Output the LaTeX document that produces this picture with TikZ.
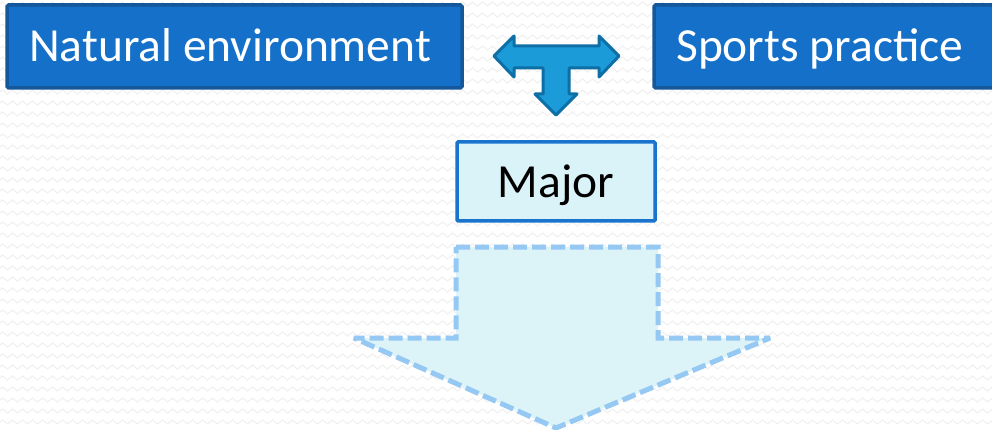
\documentclass[tikz,border=0pt]{standalone}
\usepackage{fontspec}
\setmainfont{Carlito}
\usetikzlibrary{decorations.pathmorphing}
\definecolor{boxfill}{HTML}{1470C8}
\definecolor{boxline}{HTML}{14579A}
\definecolor{majfill}{HTML}{DAF3F8}
\definecolor{majline}{HTML}{1874CD}
\definecolor{tfill}{HTML}{1B9BD7}
\definecolor{tline}{HTML}{0D6FA6}
\definecolor{dfill}{HTML}{DCF3F8}
\definecolor{dline}{HTML}{95C8F3}
\definecolor{bgzig}{HTML}{EDEDED}
\tikzset{
  topbox/.style={draw=boxline, fill=boxfill, line width=3.5pt, rounded corners=1.5pt},
  majbox/.style={draw=majline, fill=majfill, line width=3.5pt, rounded corners=1pt},
  label/.style={font=\fontsize{47.5}{52}\selectfont, inner sep=0pt},
  tarrow/.style={draw=tline, fill=tfill, line width=3pt, line join=round},
  bigarrow/.style={draw=dline, fill=dfill, line width=5pt, dash pattern=on 14pt off 5pt, line join=miter, miter limit=1.5},
  zig/.style={draw=bgzig, line width=0.8pt, decorate, decoration={zigzag, segment length=10pt, amplitude=2pt}}
}
\begin{document}
\begin{tikzpicture}[x=1pt,y=-1pt]
\useasboundingbox (0,0) rectangle (992,430);
\fill[white] (0,0) rectangle (992,430);
\begin{scope}
\clip (0,0) rectangle (992,430);
\foreach \yy in {4,15,...,430} { \path[zig] (-10,\yy) -- (1000,\yy); }
% top boxes
\path[topbox] (7,5) rectangle (462,88);
\path[topbox] (654,5) rectangle (1010,88);
\node[label, text=white, anchor=base west] (nat) at (29,62) {Natural environment};
\node[label, text=white, anchor=base west] (spo) at (676,62) {Sports practice};
% T arrow
\path[tarrow] (494,56) -- (514,36) -- (514,46) -- (599,46) -- (599,36) -- (619,56)
  -- (599,77) -- (599,68) -- (569,68) -- (569,94) -- (577,94) -- (556,115)
  -- (535,94) -- (543,94) -- (543,68) -- (514,68) -- (514,77) -- cycle;
% major box
\path[majbox] (457,142) rectangle (655,221);
\node[label, text=black, anchor=base] (maj) at (556,198) {Major};
% big dashed arrow
\path[bigarrow] (456,247) -- (658,247) -- (658,338) -- (770,338) -- (556,428)
  -- (354,338) -- (456,338) -- cycle;
\end{scope}
\end{tikzpicture}
\end{document}
